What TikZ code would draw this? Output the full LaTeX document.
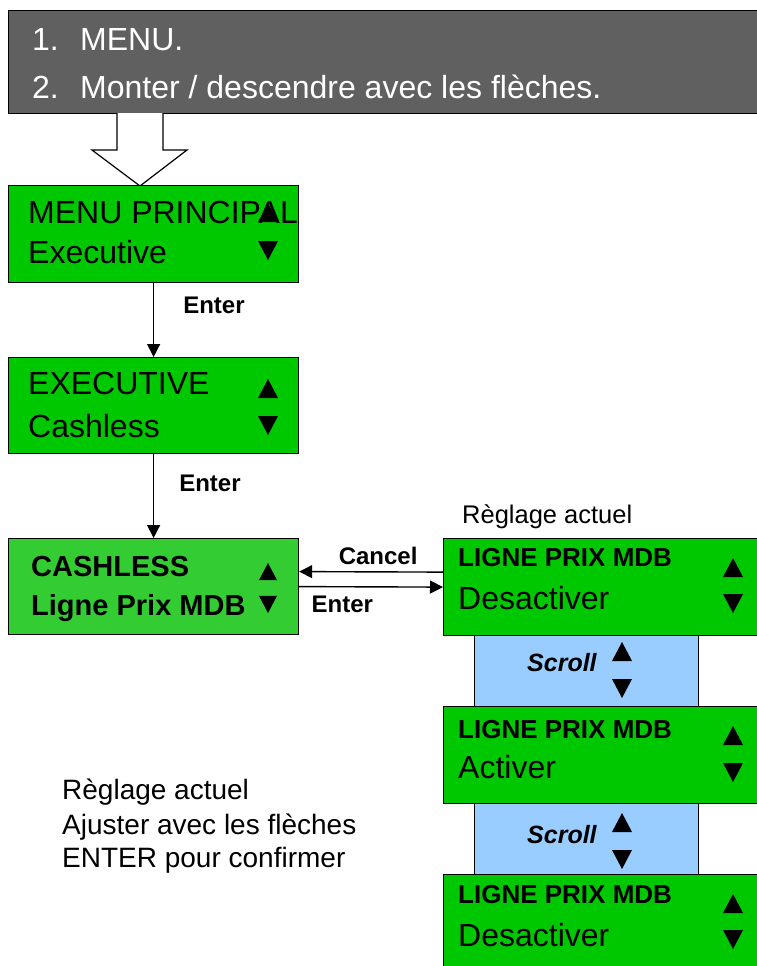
\documentclass[tikz,border=0pt]{standalone}
\usepackage{fontspec}
\setmainfont{Liberation Sans}
\usetikzlibrary{arrows.meta}
\definecolor{hdrgray}{RGB}{96,96,96}
\definecolor{lcd}{RGB}{0,200,0}
\definecolor{lcdsel}{RGB}{51,204,51}
\definecolor{scrollbg}{RGB}{153,204,255}
\newcommand\tup[2][10]{\fill (#2) ++(0,-#1) -- ++(#1,1.9*#1) -- ++(-2*#1,0) -- cycle;}
\newcommand\tdn[2][10]{\fill (#2) ++(0,#1) -- ++(#1,-1.9*#1) -- ++(-2*#1,0) -- cycle;}
\begin{document}
\begin{tikzpicture}[x=1pt,y=-1pt,
  boxbase/.style={draw=black, line width=1.2pt, anchor=north west, inner sep=0pt},
  lcdbox/.style={boxbase, fill=lcd},
  selbox/.style={boxbase, fill=lcdsel},
  scrollbox/.style={boxbase, fill=scrollbg},
  hdrtxt/.style={anchor=west, inner sep=0pt, text=white, font=\fontsize{32}{34}\selectfont},
  ntxt/.style={anchor=west, inner sep=0pt, font=\fontsize{32}{34}\selectfont},
  btxt/.style={anchor=west, inner sep=0pt, font=\fontsize{26}{28}\selectfont\bfseries},
  sbtxt/.style={anchor=west, inner sep=0pt, font=\fontsize{29}{31}\selectfont\bfseries},
  lbl/.style={anchor=west, inner sep=0pt, font=\fontsize{24}{26}\selectfont\bfseries},
  scrolltxt/.style={anchor=west, inner sep=0pt, font=\fontsize{25}{27}\selectfont\bfseries\itshape},
  note/.style={anchor=west, inner sep=0pt, font=\fontsize{28}{30}\selectfont},
  conn/.style={line width=1.4pt, -{Triangle[length=13pt,width=13pt]}}
]
\useasboundingbox (0,0) rectangle (757,966);
\fill[white] (0,0) rectangle (757,966);

% header
\node[boxbase, fill=hdrgray, minimum width=770, minimum height=103] (hdr) at (8,10) {};
\node[hdrtxt] (h1) at (32,40) {\makebox[48pt][l]{1.}MENU.};
\node[hdrtxt] (h2) at (32,87) {\makebox[48pt][l]{2.}Monter / descendre avec les flèches.};

% hollow arrow
\draw[line width=1.2pt, fill=white] (117,113) -- (117,150) -- (92,150) -- (140,186) -- (187,150) -- (163,150) -- (163,113);

% left column
\node[lcdbox, minimum width=290, minimum height=97] (b1) at (8,185) {};
\node[ntxt] (b1t1) at (28,212) {MENU PRINCIPAL};
\node[ntxt] (b1t2) at (28,252) {Executive};
\tup{268,213}
\tdn{268,250}

\node[lcdbox, minimum width=290, minimum height=96] (b2) at (8,357) {};
\node[ntxt] (b2t1) at (28,383) {EXECUTIVE};
\node[ntxt] (b2t2) at (28,426) {Cashless};
\tup{268,389}
\tdn{268,425}

\node[selbox, minimum width=290, minimum height=96] (b3) at (8,538) {};
\node[sbtxt] (b3t1) at (31,567) {CASHLESS};
\node[sbtxt] (b3t2) at (31,608) {Ligne Prix MDB};
\tup[9]{268,572}
\tdn[9]{268,604}

% right column
\node[lcdbox, minimum width=330, minimum height=97] (ra) at (443,538) {};
\node[btxt] (rat1) at (458,558) {LIGNE PRIX MDB};
\node[ntxt] (rat2) at (458,598) {Desactiver};
\tup{733,568}
\tdn{733,603}

\node[scrollbox, minimum width=224, minimum height=71] (s1) at (474,635) {};
\node[scrolltxt] (s1t) at (527,663) {Scroll};
\tup{622,652}
\tdn{622,688}

\node[lcdbox, minimum width=330, minimum height=97] (rb) at (443,706) {};
\node[btxt] (rbt1) at (458,730) {LIGNE PRIX MDB};
\node[ntxt] (rbt2) at (458,767) {Activer};
\tup{733,736}
\tdn{733,772}

\node[scrollbox, minimum width=224, minimum height=71] (s2) at (474,803) {};
\node[scrolltxt] (s2t) at (527,835) {Scroll};
\tup{622,823}
\tdn{622,859}

\node[lcdbox, minimum width=330, minimum height=110] (rc) at (443,874) {};
\node[btxt] (rct1) at (458,895) {LIGNE PRIX MDB};
\node[ntxt] (rct2) at (458,935) {Desactiver};
\tup{733,904}
\tdn{733,939}

% connectors
\draw[conn] (b1) -- (b2) node[lbl, pos=0.3, xshift=29pt] {Enter};
\draw[conn] (b2) -- (b3) node[lbl, pos=0.35, xshift=25pt] {Enter};
\draw[conn] ([yshift=15pt]ra.west) -- ([yshift=15pt]b3.east) node[lbl, midway, anchor=south, yshift=6pt, xshift=7pt] {Cancel};
\draw[conn] (b3.east) -- (ra.west) node[lbl, pos=0.3, anchor=north, yshift=-9pt] {Enter};

% notes
\node[note, font=\fontsize{25.5}{27}\selectfont] (ra-lbl) at (462,517) {Règlage actuel};
\node[note] (n1) at (62,792) {Règlage actuel};
\node[note] (n2) at (62,827) {Ajuster avec les flèches};
\node[note] (n3) at (62,860) {ENTER pour confirmer};
\end{tikzpicture}
\end{document}
